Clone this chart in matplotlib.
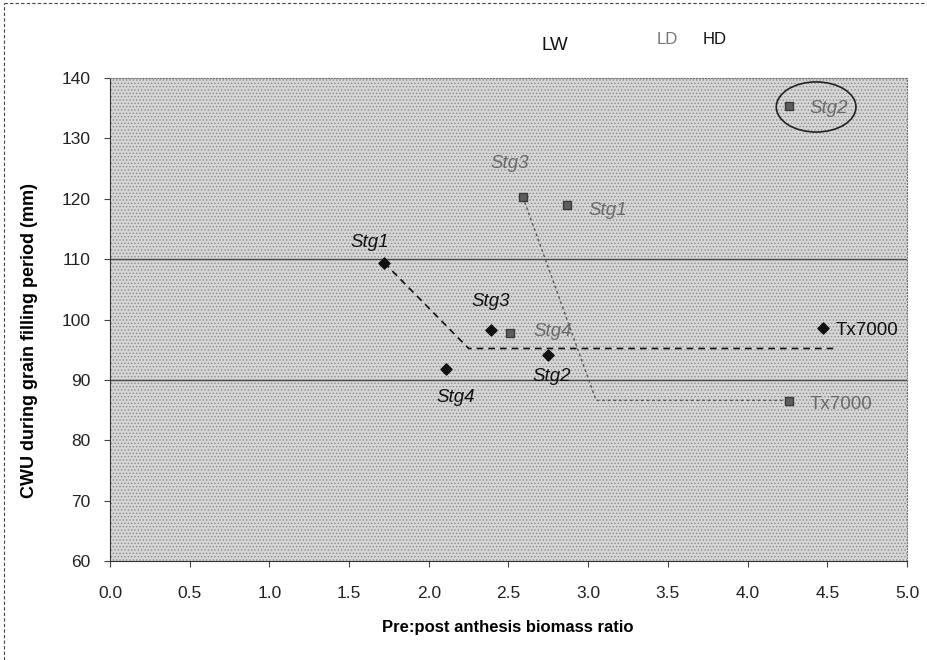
import matplotlib
matplotlib.use("Agg")
import matplotlib.pyplot as plt
from matplotlib.patches import Ellipse, Rectangle
from matplotlib.lines import Line2D

plt.rcParams['font.family'] = ['Liberation Sans', 'DejaVu Sans']
plt.rcParams['hatch.linewidth'] = 0.6
plt.rcParams['hatch.color'] = '#8a8a8a'

# HD (high density) genotypes
hd_labels = ["Stg1", "Stg3", "Stg4", "Stg2", "Tx7000"]
hd_x = [1.72, 2.39, 2.11, 2.75, 4.47]
hd_y = [109.4, 98.3, 91.8, 94.1, 98.6]

# LD (low density) genotypes
ld_labels = ["Stg3", "Stg1", "Stg4", "Tx7000", "Stg2"]
ld_x = [2.59, 2.87, 2.51, 4.26, 4.26]
ld_y = [120.3, 119.0, 97.7, 86.5, 135.4]

# broken-stick lines
hd_line_x = [1.72, 2.25, 4.55]
hd_line_y = [109.4, 95.2, 95.2]
ld_line_x = [2.59, 3.05, 4.22]
ld_line_y = [120.3, 86.6, 86.6]

x_ticks = [0.0, 0.5, 1.0, 1.5, 2.0, 2.5, 3.0, 3.5, 4.0, 4.5, 5.0]
y_ticks = [60, 70, 80, 90, 100, 110, 120, 130, 140]

fig = plt.figure(figsize=(9.28, 6.60), dpi=100)
ax = fig.add_axes([110/928, 1-561/660, 797/928, 483/660])
ax.set_xlim(0, 5)
ax.set_ylim(60, 140)
ax.set_facecolor('#d6d6d6')
ax.add_patch(Rectangle((0, 0), 1, 1, transform=ax.transAxes, facecolor='#d6d6d6',
                       hatch='.....', edgecolor='#8a8a8a', lw=0, zorder=0))

for g in [90, 110]:
    ax.axhline(g, color='#4a4a4a', lw=1.0, zorder=1)

ax.plot(hd_line_x, hd_line_y, ls=(0, (4, 3)), color='#111111', lw=1.2, zorder=2)
ax.plot(ld_line_x, ld_line_y, ls=(0, (2, 2)), color='#5a5a5a', lw=1.0, zorder=2)

ax.scatter(hd_x, hd_y, marker='D', s=32, color='#111111', zorder=4)
ax.scatter(ld_x, ld_y, marker='s', s=30, color='#5e5e5e', edgecolor='#3a3a3a', zorder=4)

hd_off = [(-0.214, 3.4), (-0.12, 4.6), (-0.065, -4.7), (-0.10, -3.5), (0.085, -0.4)]
for lab, x, y, (dx, dy) in zip(hd_labels, hd_x, hd_y, hd_off):
    st = 'normal' if lab.startswith('Tx') else 'italic'
    ax.text(x + dx, y + dy, lab, fontsize=13.5, style=st, color='#111111',
            va='center', ha='left', zorder=5)

ld_off = [(-0.206, 5.6), (0.13, -0.9), (0.144, 0.3), (0.13, -0.5), (0.13, -0.4)]
for lab, x, y, (dx, dy) in zip(ld_labels, ld_x, ld_y, ld_off):
    st = 'normal' if lab.startswith('Tx') else 'italic'
    ax.text(x + dx, y + dy, lab, fontsize=13.5, style=st, color='#6a6a6a',
            va='center', ha='left', zorder=5)

ax.add_patch(Ellipse((4.43, 135.2), 0.5, 8.3, fill=False, color='#222222', lw=1.2, zorder=5))

ax.set_xticks(x_ticks)
ax.set_xticklabels([f"{v:.1f}" for v in x_ticks])
ax.set_yticks(y_ticks)
ax.tick_params(axis='both', labelsize=12.5, length=4, color='#444444', labelcolor='#222222')
ax.tick_params(axis='x', pad=14)
ax.tick_params(axis='y', pad=10)
for s in ['top', 'right']:
    ax.spines[s].set_color('#777777')
    ax.spines[s].set_linestyle(':')
for s in ['left', 'bottom']:
    ax.spines[s].set_color('#333333')

ax.set_xlabel("Pre:post anthesis biomass ratio", fontsize=12, fontweight='bold')
ax.xaxis.set_label_coords((508-110)/797, -(620-561)/483)
ax.set_ylabel("CWU during grain filling period (mm)", fontsize=13, fontweight='bold')
ax.yaxis.set_label_coords(-(110-38)/797, (561-340)/483)

fig.text(555/928, 1-45/660, "LW", fontsize=13.5, ha='center', va='center', color='#111111')
fig.text(667/928, 1-40/660, "LD", fontsize=12, ha='center', va='center', color='#777777')
fig.text(715/928, 1-40/660, "HD", fontsize=12, ha='center', va='center', color='#111111')

fig.add_artist(Line2D([0.004, 0.004], [0.0, 0.995], transform=fig.transFigure,
                      ls=(0, (3, 2)), lw=0.8, color='#444444'))
fig.add_artist(Line2D([0.004, 1.0], [0.995, 0.995], transform=fig.transFigure,
                      ls=(0, (3, 2)), lw=0.8, color='#444444'))

fig.savefig("out.png", dpi=100)
